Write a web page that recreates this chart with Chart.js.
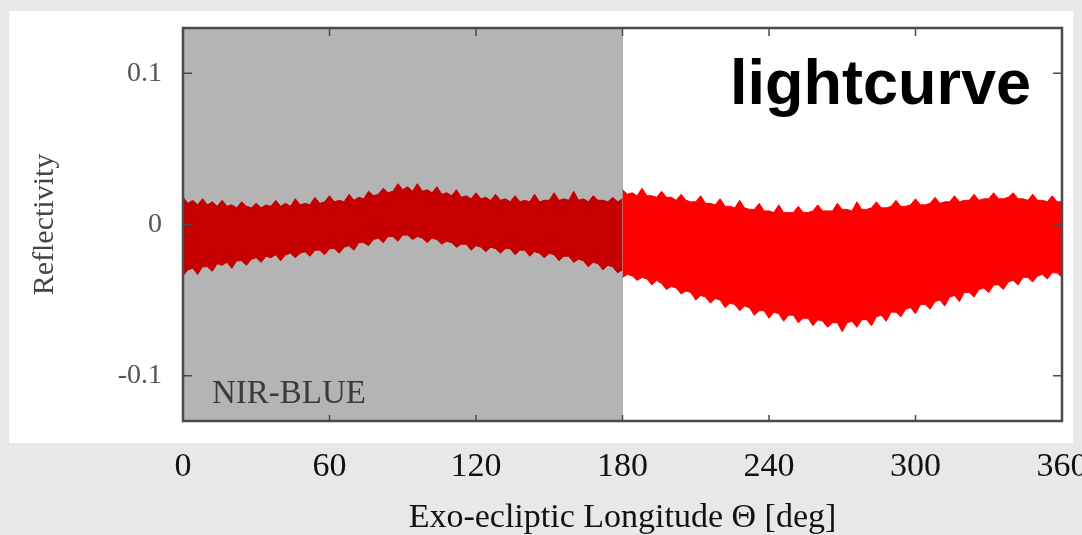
<!DOCTYPE html>
<html>
<head>
<meta charset="utf-8">
<title>NIR-BLUE lightcurve</title>
<script src="https://cdn.jsdelivr.net/npm/chart.js"></script>
<style>
  html, body { margin: 0; padding: 0; background: #e8e8e8; }
  #wrap { position: relative; width: 1082px; height: 535px; }
  #panel { position: absolute; left: 9px; top: 11px; width: 1064px; height: 432px; background: #fff; }
  #lc { position: absolute; left: 0; top: 0; }
</style>
</head>
<body>
<div id="wrap">
  <div id="panel"></div>
  <canvas id="lc" width="1082" height="535"></canvas>
</div>
<script>
// exo-ecliptic longitude samples [deg], first and second half of the orbit
const lonWest = [0, 2, 4, 6, 8, 10, 12, 14, 16, 18, 20, 22, 24, 26, 28, 30, 32, 34, 36, 38,
  40, 42, 44, 46, 48, 50, 52, 54, 56, 58, 60, 62, 64, 66, 68, 70, 72, 74, 76, 78,
  80, 82, 84, 86, 88, 90, 92, 94, 96, 98, 100, 102, 104, 106, 108, 110, 112, 114, 116, 118,
  120, 122, 124, 126, 128, 130, 132, 134, 136, 138, 140, 142, 144, 146, 148, 150, 152, 154, 156, 158,
  160, 162, 164, 166, 168, 170, 172, 174, 176, 178, 180];
const lonEast = [180, 182, 184, 186, 188, 190, 192, 194, 196, 198, 200, 202, 204, 206, 208, 210, 212, 214, 216, 218,
  220, 222, 224, 226, 228, 230, 232, 234, 236, 238, 240, 242, 244, 246, 248, 250, 252, 254, 256, 258,
  260, 262, 264, 266, 268, 270, 272, 274, 276, 278, 280, 282, 284, 286, 288, 290, 292, 294, 296, 298,
  300, 302, 304, 306, 308, 310, 312, 314, 316, 318, 320, 322, 324, 326, 328, 330, 332, 334, 336, 338,
  340, 342, 344, 346, 348, 350, 352, 354, 356, 358, 360];

// upper / lower edge of the reflectivity scatter, 0-180 deg
const westHigh = [0.018, 0.014, 0.016, 0.013, 0.017, 0.013, 0.015, 0.012, 0.016, 0.012, 0.013, 0.011, 0.015, 0.012, 0.011, 0.014, 0.011, 0.013, 0.012, 0.016,
  0.012, 0.014, 0.012, 0.017, 0.013, 0.014, 0.013, 0.018, 0.014, 0.015, 0.019, 0.015, 0.016, 0.015, 0.020, 0.016, 0.018, 0.017, 0.022, 0.019,
  0.020, 0.024, 0.021, 0.022, 0.027, 0.023, 0.025, 0.022, 0.027, 0.022, 0.023, 0.021, 0.025, 0.020, 0.021, 0.019, 0.023, 0.018, 0.019, 0.017,
  0.021, 0.017, 0.018, 0.016, 0.020, 0.016, 0.017, 0.015, 0.019, 0.015, 0.016, 0.015, 0.020, 0.015, 0.016, 0.016, 0.021, 0.016, 0.017, 0.016,
  0.022, 0.016, 0.017, 0.015, 0.019, 0.016, 0.016, 0.015, 0.018, 0.015, 0.017];
const westLow = [-0.034, -0.030, -0.029, -0.033, -0.028, -0.028, -0.031, -0.026, -0.027, -0.025, -0.029, -0.024, -0.024, -0.027, -0.023, -0.022, -0.025, -0.021, -0.022, -0.020,
  -0.024, -0.020, -0.019, -0.022, -0.019, -0.018, -0.021, -0.017, -0.017, -0.020, -0.016, -0.016, -0.019, -0.015, -0.014, -0.017, -0.012, -0.012, -0.014, -0.010,
  -0.009, -0.012, -0.008, -0.008, -0.011, -0.007, -0.007, -0.010, -0.008, -0.009, -0.012, -0.009, -0.010, -0.013, -0.011, -0.012, -0.015, -0.013, -0.013, -0.017,
  -0.014, -0.015, -0.018, -0.015, -0.016, -0.019, -0.016, -0.016, -0.020, -0.017, -0.017, -0.021, -0.018, -0.019, -0.022, -0.019, -0.020, -0.024, -0.021, -0.021,
  -0.025, -0.023, -0.024, -0.028, -0.025, -0.026, -0.030, -0.027, -0.028, -0.032, -0.030];

// upper / lower edge, 180-360 deg
const eastHigh = [0.023, 0.020, 0.021, 0.019, 0.024, 0.019, 0.019, 0.018, 0.022, 0.018, 0.018, 0.016, 0.020, 0.016, 0.015, 0.015, 0.019, 0.014, 0.014, 0.013,
  0.017, 0.012, 0.012, 0.011, 0.016, 0.011, 0.010, 0.010, 0.014, 0.009, 0.009, 0.008, 0.013, 0.008, 0.008, 0.008, 0.012, 0.008, 0.008, 0.009,
  0.013, 0.009, 0.009, 0.009, 0.014, 0.010, 0.010, 0.009, 0.015, 0.010, 0.010, 0.011, 0.015, 0.011, 0.011, 0.012, 0.016, 0.012, 0.012, 0.013,
  0.017, 0.013, 0.013, 0.014, 0.018, 0.014, 0.015, 0.015, 0.019, 0.015, 0.016, 0.016, 0.020, 0.016, 0.017, 0.017, 0.021, 0.017, 0.017, 0.018,
  0.021, 0.017, 0.017, 0.016, 0.020, 0.016, 0.016, 0.015, 0.019, 0.015, 0.015];
const eastLow = [-0.035, -0.033, -0.034, -0.037, -0.035, -0.036, -0.040, -0.037, -0.039, -0.043, -0.041, -0.042, -0.046, -0.044, -0.045, -0.050, -0.047, -0.048, -0.052, -0.049,
  -0.050, -0.055, -0.052, -0.053, -0.057, -0.054, -0.055, -0.060, -0.057, -0.057, -0.062, -0.058, -0.059, -0.064, -0.060, -0.060, -0.065, -0.062, -0.062, -0.067,
  -0.063, -0.064, -0.068, -0.065, -0.065, -0.071, -0.065, -0.064, -0.068, -0.063, -0.063, -0.067, -0.061, -0.060, -0.064, -0.058, -0.058, -0.061, -0.056, -0.055,
  -0.059, -0.053, -0.053, -0.056, -0.051, -0.050, -0.054, -0.048, -0.047, -0.051, -0.045, -0.045, -0.048, -0.043, -0.042, -0.045, -0.040, -0.040, -0.043, -0.038,
  -0.037, -0.040, -0.035, -0.035, -0.038, -0.034, -0.033, -0.036, -0.032, -0.032, -0.035];

const xTicks = [0, 60, 120, 180, 240, 300, 360];
const yTicks = [-0.1, 0, 0.1];
const shadedRange = [0, 180];

const SERIF = '"Liberation Serif", "Times New Roman", serif';

function pts(xs, ys) {
  return xs.map((x, i) => ({ x: x, y: ys[i] }));
}

function band(data, color, fill) {
  return {
    data: data,
    borderColor: color,
    backgroundColor: color,
    borderWidth: 1,
    pointRadius: 0,
    tension: 0,
    fill: fill
  };
}

// grey background over the first half of the orbit
const shade = {
  id: 'shade',
  beforeDatasetsDraw(chart) {
    const { ctx, chartArea: a, scales: { x } } = chart;
    const x0 = Math.floor(x.getPixelForValue(shadedRange[0]));
    const x1 = Math.ceil(x.getPixelForValue(shadedRange[1]));
    ctx.save();
    ctx.fillStyle = '#b4b4b4';
    ctx.fillRect(x0, a.top, x1 - x0, a.bottom - a.top);
    ctx.restore();
  }
};

// box frame with inward ticks, plus the panel labels
const frame = {
  id: 'frame',
  afterDatasetsDraw(chart) {
    const { ctx, chartArea: a, scales: { x, y } } = chart;
    ctx.save();
    ctx.strokeStyle = '#4a4a4a';
    ctx.lineWidth = 1.5;
    ctx.beginPath();
    xTicks.slice(1, -1).forEach(v => {
      const px = x.getPixelForValue(v);
      ctx.moveTo(px, a.top); ctx.lineTo(px, a.top + 8);
      ctx.moveTo(px, a.bottom); ctx.lineTo(px, a.bottom - 6);
    });
    yTicks.forEach(v => {
      const py = y.getPixelForValue(v);
      ctx.moveTo(a.left, py); ctx.lineTo(a.left + 9, py);
      ctx.moveTo(a.right, py); ctx.lineTo(a.right - 9, py);
    });
    ctx.stroke();

    ctx.lineWidth = 2.5;
    ctx.strokeRect(a.left, a.top, a.right - a.left, a.bottom - a.top);

    ctx.fillStyle = '#3a3a3a';
    ctx.font = '33px ' + SERIF;
    ctx.textAlign = 'left';
    ctx.textBaseline = 'alphabetic';
    ctx.fillText('NIR-BLUE', a.left + 29, a.bottom - 18);

    ctx.fillStyle = '#000';
    ctx.font = 'bold 63px "Liberation Sans", Arial, sans-serif';
    ctx.textAlign = 'right';
    ctx.fillText('lightcurve', a.right - 31, a.top + 76);
    ctx.restore();
  }
};

new Chart(document.getElementById('lc'), {
  type: 'line',
  data: {
    datasets: [
      band(pts(lonWest, westHigh), 'rgb(198, 0, 0)', false),
      band(pts(lonWest, westLow), 'rgb(198, 0, 0)', '-1'),
      band(pts(lonEast, eastHigh), 'rgb(255, 0, 0)', false),
      band(pts(lonEast, eastLow), 'rgb(255, 0, 0)', '-1')
    ]
  },
  options: {
    responsive: false,
    animation: false,
    events: [],
    layout: { padding: { top: 28, right: 20, left: 0, bottom: 0 } },
    plugins: {
      legend: { display: false },
      tooltip: { enabled: false }
    },
    scales: {
      x: {
        type: 'linear',
        min: 0,
        max: 360,
        grid: { display: false, drawTicks: false },
        border: { display: false },
        afterBuildTicks: s => { s.ticks = xTicks.map(v => ({ value: v })); },
        afterFit: s => { s.height = 114; s.paddingLeft = 0; s.paddingRight = 0; },
        ticks: {
          autoSkip: false,
          maxRotation: 0,
          padding: 26,
          color: '#111',
          font: { family: SERIF, size: 34 }
        },
        title: {
          display: true,
          text: 'Exo-ecliptic Longitude Θ [deg]',
          color: '#111',
          font: { family: SERIF, size: 34, lineHeight: 1 },
          padding: { top: 0, bottom: 0 }
        }
      },
      y: {
        min: -0.13,
        max: 0.13,
        grid: { display: false, drawTicks: false },
        border: { display: false },
        afterBuildTicks: s => { s.ticks = yTicks.map(v => ({ value: v })); },
        afterFit: s => { s.width = 183; s.paddingTop = 0; s.paddingBottom = 0; },
        ticks: {
          padding: 21,
          color: '#555',
          font: { family: SERIF, size: 28 },
          callback: v => (v === 0 ? '0' : v.toFixed(1))
        },
        title: {
          display: true,
          text: 'Reflectivity',
          color: '#444',
          font: { family: SERIF, size: 30 },
          padding: { top: 27, bottom: 0 }
        }
      }
    }
  },
  plugins: [shade, frame]
});
</script>
</body>
</html>
